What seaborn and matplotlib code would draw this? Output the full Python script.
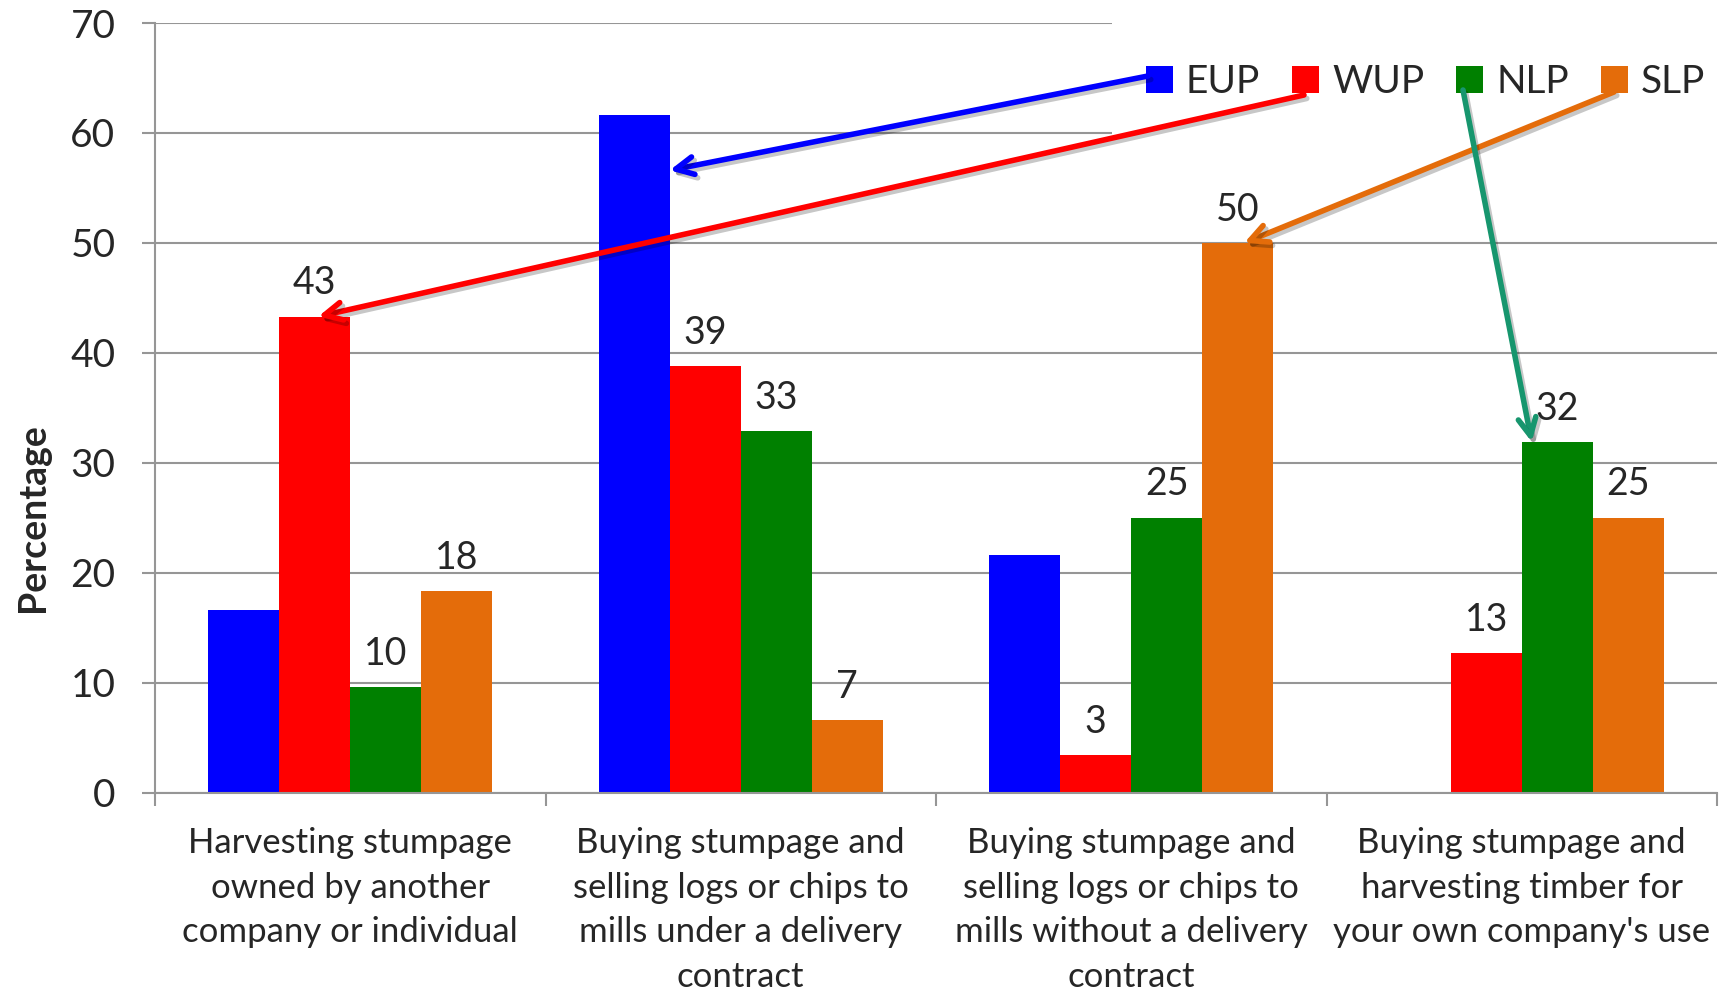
import matplotlib
matplotlib.use("Agg")
import matplotlib.pyplot as plt
import matplotlib.patheffects as pe
from matplotlib.patches import Patch, Rectangle
import numpy as np
import pandas as pd
import seaborn as sns

# ---------------- data ----------------
categories = [
    "Harvesting stumpage\nowned by another\ncompany or individual",
    "Buying stumpage and\nselling logs or chips to\nmills under a delivery\ncontract",
    "Buying stumpage and\nselling logs or chips to\nmills without a delivery\ncontract",
    "Buying stumpage and\nharvesting timber for\nyour own company's use",
]
regions = ["EUP", "WUP", "NLP", "SLP"]
eup = [16.6, 61.6, 21.6, 0.0]
wup = [43.3, 38.8, 3.4, 12.7]
nlp = [9.6, 32.9, 25.0, 31.9]
slp = [18.3, 6.6, 50.0, 25.0]
labeled_regions = ["WUP", "NLP", "SLP"]

colors = {"EUP": "#0000FF", "WUP": "#FF0000", "NLP": "#008000", "SLP": "#E46C0A"}
arrow_colors = {"EUP": "#0000FF", "WUP": "#FF0000", "NLP": "#17966E", "SLP": "#E46C0A"}

rows = []
for reg, vals in zip(regions, [eup, wup, nlp, slp]):
    for cat, v in zip(categories, vals):
        rows.append({"category": cat, "region": reg, "value": v})
df = pd.DataFrame(rows)

# ---------------- style ----------------
sns.set_theme(style="white")
plt.rcParams["font.family"] = ["Lato", "DejaVu Sans"]
GRID = "#969696"

W, H = 1721, 993
fig = plt.figure(figsize=(W / 100, H / 100), dpi=100)
ax_l, ax_r, ax_b, ax_t = 155, 1717, 792.5, 23
ax = fig.add_axes([ax_l / W, 1 - ax_b / H, (ax_r - ax_l) / W, (ax_b - ax_t) / H])

sns.barplot(data=df, x="category", y="value", hue="region", order=categories,
            hue_order=regions, palette=colors, width=0.728, errorbar=None,
            linewidth=0, saturation=1, ax=ax, legend=False)

ax.set_xlim(-0.5, 3.5)
ax.set_ylim(0, 70)
ax.set_yticks(np.arange(0, 71, 10))
ax.set_axisbelow(True)
ax.yaxis.grid(True, color=GRID, linewidth=1.5)
ax.xaxis.grid(False)
for s in ["top", "right"]:
    ax.spines[s].set_visible(False)
for s in ["left", "bottom"]:
    ax.spines[s].set_color(GRID)
    ax.spines[s].set_linewidth(1.5)

ax.tick_params(axis="y", which="major", direction="out", length=9.5, width=1.5,
               color=GRID, labelsize=28, pad=19, left=True)
ax.tick_params(axis="x", which="major", length=0, labelsize=25, pad=25)
ax.set_xticks(np.arange(-0.5, 3.6, 1.0), minor=True)
ax.tick_params(axis="x", which="minor", direction="out", length=9, width=1.5,
               color=GRID, bottom=True)
for lbl in ax.get_xticklabels():
    lbl.set_linespacing(1.48)
ax.set_xlabel("")
ax.set_ylabel("Percentage", fontsize=27, fontweight="bold")
ax.yaxis.set_label_coords(-0.0672, 0.357)

# value labels (WUP, NLP, SLP only)
for reg, cont in zip(regions, ax.containers):
    if reg in labeled_regions:
        ax.bar_label(cont, fmt="%.0f", padding=11, fontsize=27)

# white area behind legend (covers top gridlines)
ax.add_patch(Rectangle(((1112 - ax_l) / (ax_r - ax_l), 55), 0.5, 17,
                       transform=ax.get_yaxis_transform(), facecolor="white",
                       edgecolor="none", zorder=1.5, clip_on=False))

# legend
handles = [Patch(facecolor=colors[r], edgecolor="none") for r in regions]
leg = ax.legend(handles, regions, ncol=4, loc="center right",
                bbox_to_anchor=(1705 / W, 1 - 82 / H), bbox_transform=fig.transFigure,
                frameon=False, fontsize=28, handlelength=0.70, handleheight=0.70,
                handletextpad=0.33, columnspacing=0.82, borderpad=0, borderaxespad=0)

# arrows from legend keys to bars
def bar_of(reg, idx):
    return ax.containers[regions.index(reg)][idx]

targets = {
    "EUP": (1, 1.0, 56.6),
    "WUP": (0, 0.55, None),
    "SLP": (2, 0.59, None),
    "NLP": (3, 0.14, None),
}
tails = {"EUP": (1148, 76), "WUP": (1304, 95), "NLP": (1463, 90), "SLP": (1614, 92)}
for reg in ["EUP", "WUP", "SLP", "NLP"]:
    idx, frac, yv = targets[reg]
    p = bar_of(reg, idx)
    xt = p.get_x() + frac * p.get_width()
    yt = p.get_height() if yv is None else yv
    tx, ty = tails[reg]
    an = ax.annotate("", xy=(xt, yt), xycoords="data",
                     xytext=(tx / W, 1 - ty / H), textcoords="figure fraction",
                     arrowprops=dict(arrowstyle="->", color=arrow_colors[reg], lw=4,
                                     mutation_scale=32, shrinkA=0, shrinkB=0),
                     zorder=10, annotation_clip=False)
    an.arrow_patch.set_path_effects([
        pe.SimpleLineShadow(offset=(2, -2.5), shadow_color="black", alpha=0.22),
        pe.Normal()])

fig.savefig("out.png", dpi=100)
